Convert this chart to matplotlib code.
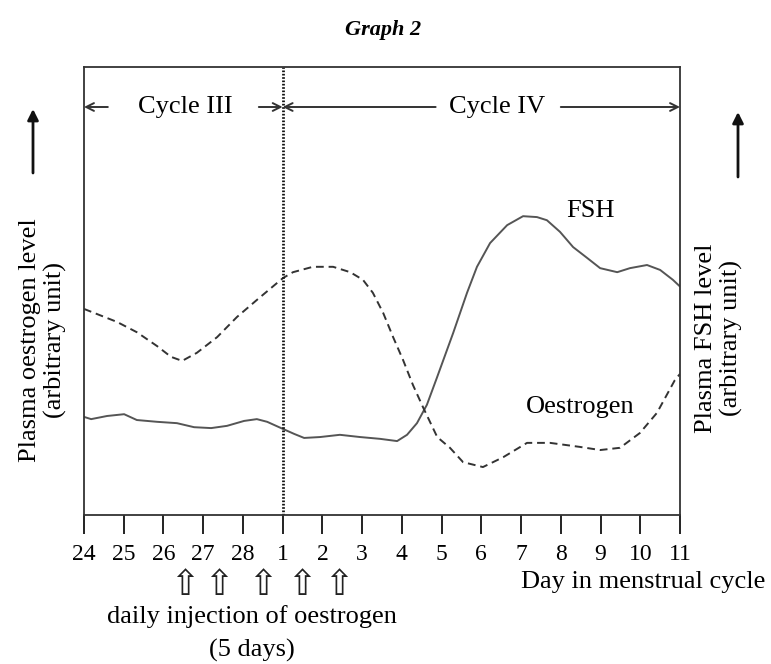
import matplotlib
matplotlib.use("Agg")
import matplotlib.pyplot as plt
import numpy as np

# ---- data (x = position index along day axis: 24->0, 25->1, ... 28->4, 1->5, ... 11->15) ----
day_labels = ["24", "25", "26", "27", "28", "1", "2", "3", "4", "5", "6", "7", "8", "9", "10", "11"]

oestrogen_x = [0.0, 0.83, 1.33, 1.84, 2.19, 2.47, 2.84, 3.35, 3.85, 4.35, 4.86, 5.01, 5.26,
               5.76, 6.27, 6.70, 7.02, 7.27, 7.53, 7.78, 8.03, 8.28, 8.53, 8.89, 9.21, 9.54,
               10.04, 10.55, 11.15, 11.73, 12.48, 12.99, 13.49, 13.99, 14.42, 14.87, 15.0]
oestrogen_y = [46.0, 43.1, 40.8, 37.7, 35.3, 34.4, 36.2, 39.7, 44.2, 48.0, 51.8, 52.9, 54.2,
               55.4, 55.4, 54.2, 52.5, 49.6, 45.1, 39.7, 34.6, 29.0, 24.1, 17.4, 15.0, 11.8,
               10.7, 12.9, 16.1, 16.1, 15.2, 14.5, 15.0, 18.3, 22.8, 30.1, 31.5]

fsh_x = [0.0, 0.18, 0.58, 1.01, 1.33, 1.84, 2.34, 2.77, 3.20, 3.60, 4.03, 4.35, 4.61, 4.96,
         5.29, 5.54, 5.94, 6.44, 6.95, 7.45, 7.88, 8.13, 8.38, 8.63, 8.88, 9.29, 9.64, 9.89,
         10.22, 10.65, 11.05, 11.40, 11.65, 11.98, 12.31, 12.66, 12.99, 13.42, 13.74, 14.17,
         14.50, 14.82, 15.0]
fsh_y = [21.9, 21.4, 22.1, 22.5, 21.2, 20.8, 20.5, 19.6, 19.4, 19.9, 21.0, 21.4, 20.8, 19.4,
         18.1, 17.2, 17.4, 17.9, 17.4, 17.0, 16.5, 17.9, 20.5, 24.6, 30.6, 40.6, 49.6, 55.4,
         60.7, 64.7, 66.7, 66.5, 65.8, 63.2, 59.8, 57.4, 55.1, 54.2, 55.1, 55.8,
         54.7, 52.5, 51.0]

injection_x = [2.54, 3.38, 4.5, 5.49, 6.4]
cycle_boundary_x = 5

SERIF = "Liberation Serif"

W, H = 771, 664
fig = plt.figure(figsize=(W / 100, H / 100), dpi=100)
ax = fig.add_axes([84 / W, 1 - 515 / H, (680 - 84) / W, (515 - 67) / H])

ax.plot(fsh_x, fsh_y, color="#555555", lw=1.4, solid_joinstyle="round", solid_capstyle="round")
ax.plot(oestrogen_x, oestrogen_y, color="#333333", lw=1.4, linestyle=(0, (4, 2.5)),
        dash_joinstyle="round")
ax.axvline(cycle_boundary_x, color="#111111", lw=2.0, linestyle=(0, (0.6, 0.6)))

ax.set_xlim(0, 15)
ax.set_ylim(0, 100)
ax.set_yticks([])
ax.set_xticks(range(len(day_labels)))
ax.set_xticklabels(day_labels, fontfamily=SERIF, fontsize=17)
ax.tick_params(axis="x", direction="out", length=14, width=1.4, pad=7, color="#222222")
for s in ax.spines.values():
    s.set_color("#333333")
    s.set_linewidth(1.3)

# cycle annotations
yc = (515 - 107) / 448 * 100
arrow_kw = dict(arrowstyle="->", color="#333333", lw=1.4, mutation_scale=14, shrinkA=0, shrinkB=0)
ax.annotate("", xy=(0, yc), xytext=(0.6, yc), arrowprops=arrow_kw, annotation_clip=False)
ax.annotate("", xy=(cycle_boundary_x, yc), xytext=(cycle_boundary_x - 0.6, yc), arrowprops=arrow_kw,
            annotation_clip=False)
ax.text(2.55, yc, "Cycle III", fontfamily=SERIF, fontsize=19, ha="center", va="center")
ax.annotate("", xy=(cycle_boundary_x, yc), xytext=(8.85, yc), arrowprops=arrow_kw, annotation_clip=False)
ax.text(10.4, yc, "Cycle IV", fontfamily=SERIF, fontsize=19, ha="center", va="center")
ax.annotate("", xy=(15, yc), xytext=(12.0, yc), arrowprops=arrow_kw, annotation_clip=False)

# curve labels
ax.text(12.75, (515 - 211) / 448 * 100, "FSH", fontfamily=SERIF, fontsize=19, ha="center", va="center")
ax.text(12.5, (515 - 407) / 448 * 100, "Oestrogen", fontfamily=SERIF, fontsize=19, ha="center", va="center")

# injection arrows
trans = ax.get_xaxis_transform()
for xi in injection_x:
    ax.text(xi, (515 - 585) / 448, "\u21e7", transform=trans, fontfamily="DejaVu Sans",
            fontsize=25, ha="center", va="center", color="#222222")

def fx(px):
    return px / W

def fy(py):
    return 1 - py / H

fig.text(fx(383), fy(30), "Graph 2", fontfamily=SERIF, fontsize=16, fontweight="bold",
         fontstyle="italic", ha="center", va="center")
fig.text(fx(252), fy(617), "daily injection of oestrogen", fontfamily=SERIF, fontsize=19,
         ha="center", va="center")
fig.text(fx(252), fy(650), "(5 days)", fontfamily=SERIF, fontsize=19, ha="center", va="center")
fig.text(fx(643), fy(582), "Day in menstrual cycle", fontfamily=SERIF, fontsize=19,
         ha="center", va="center")
fig.text(fx(43), fy(340), "Plasma oestrogen level\n(arbitrary unit)", fontfamily=SERIF, fontsize=19,
         rotation=90, ha="center", va="center", multialignment="center", linespacing=1.2)
fig.text(fx(719), fy(338), "Plasma FSH level\n(arbitrary unit)", fontfamily=SERIF, fontsize=19,
         rotation=90, ha="center", va="center", multialignment="center", linespacing=1.2)

up_kw = dict(arrowstyle="-|>", color="#111111", lw=2.0, mutation_scale=16, shrinkA=0, shrinkB=0)
fig.add_artist(matplotlib.patches.FancyArrowPatch((fx(33), fy(173)), (fx(33), fy(109)),
                                                  transform=fig.transFigure, **up_kw))
fig.add_artist(matplotlib.patches.FancyArrowPatch((fx(738), fy(177)), (fx(738), fy(112)),
                                                  transform=fig.transFigure, **up_kw))

fig.savefig("out.png", dpi=100)
